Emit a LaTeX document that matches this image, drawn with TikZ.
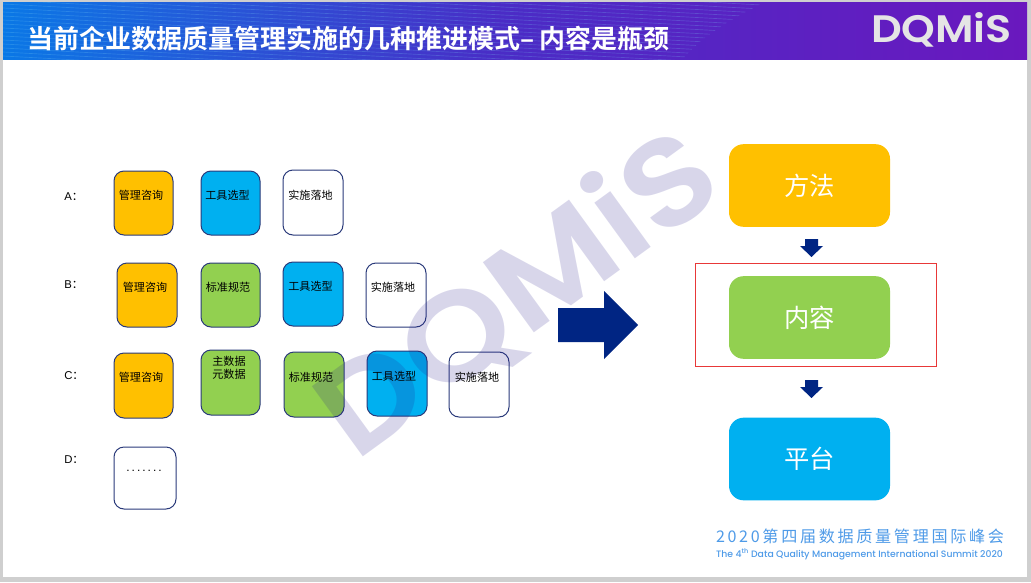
\documentclass[tikz,border=0pt]{standalone}
\usepackage{fontspec}
\setmainfont{Liberation Sans}
\newfontfamily\cjk{Noto Sans CJK SC}
\newfontfamily\cjkb{Noto Sans CJK SC Bold}
\newfontfamily\pop{Poppins Medium}
\newfontfamily\popb{Poppins SemiBold}
\usetikzlibrary{calc}
\definecolor{bandA}{HTML}{0A78E6}
\definecolor{bandB}{HTML}{4A2CC6}
\definecolor{bandC}{HTML}{6A18BE}
\definecolor{navy}{HTML}{002583}
\definecolor{edge}{HTML}{2A3A7A}
\definecolor{cOrange}{HTML}{FFC000}
\definecolor{cGreen}{HTML}{92D050}
\definecolor{cBlue}{HTML}{00B0F0}
\definecolor{wm}{HTML}{25198C}
\definecolor{foot}{HTML}{4F9BE8}
\definecolor{pageedge}{HTML}{CFCFCF}
\definecolor{frame}{HTML}{E83838}
\tikzset{
  sbox/.style={draw=edge,line width=0.75pt,rounded corners=7.5pt,inner sep=0pt},
  bbox/.style={rounded corners=11pt,inner sep=0pt,minimum width=120.75pt,minimum height=62pt,text=white,font=\cjk\fontsize{19}{21}\selectfont},
  stxt/.style={inner sep=0pt,font=\cjk\fontsize{8.3}{9.8}\selectfont,text=black,align=center},
  rowlbl/.style={inner sep=0pt,anchor=west,font=\fontsize{8.5}{10}\selectfont,text=black},
  darrow/.style={fill=navy,draw=none}
}
% name, x1, y1, x2, y2, fill
\newcommand{\bx}[6]{%
  \pgfmathsetmacro{\bw}{(#4-#2)*0.75}\pgfmathsetmacro{\bh}{(#5-#3)*0.75}%
  \node[sbox,fill=#6,minimum width=\bw pt,minimum height=\bh pt] (#1) at ({(#2+#4)/2},{(#3+#5)/2}) {};}
\begin{document}
\begin{tikzpicture}[x=0.75pt,y=-0.75pt]
\useasboundingbox (0,0) rectangle (1031,582);
\fill[pageedge] (0,0) rectangle (1031,582);
\fill[white] (3,2) rectangle (1027,577);
% banner
\begin{scope}
\clip (3,2) rectangle (1027,59.5);
\shade[left color=bandA,right color=bandB] (3,2) rectangle (500,60);
\shade[left color=bandB,right color=bandC] (500,2) rectangle (1027,60);
\begin{scope}
\clip (3,2) -- (765,2) .. controls (725,22) and (700,38) .. (682,60) -- (3,60) -- cycle;
\foreach \i in {-44,-40,...,60}{
  \draw[cyan!50!white,opacity=0.22,line width=0.5pt] (3,\i) -- (780,{\i+42});
}
\end{scope}
\end{scope}
\node[inner sep=0pt,anchor=west,text=white,font=\cjkb\fontsize{19.45}{22}\selectfont] (title) at (27,39) {当前企业数据质量管理实施的几种推进模式– 内容是瓶颈};
\node[inner sep=0pt,text=white!90!black] (logo) at (941.5,30) {\resizebox{105.75pt}{22.5pt}{\popb DQMiS}};
% small boxes
\bx{a1}{114}{171}{173}{235}{cOrange}
\bx{a2}{201}{171}{260}{235}{cBlue}
\bx{a3}{283}{170}{343}{235}{white}
\bx{b1}{117}{263}{177}{327}{cOrange}
\bx{b2}{201}{263}{260}{327}{cGreen}
\bx{b3}{283}{262}{343}{326}{cBlue}
\bx{b4}{366}{263}{426}{327}{white}
\bx{c1}{114}{353}{173}{418}{cOrange}
\bx{c2}{201}{350}{260}{415}{cGreen}
\bx{c3}{284}{352}{344}{417}{cGreen}
\bx{c4}{367}{351}{427}{416}{cBlue}
\bx{c5}{449}{352}{509}{417}{white}
\bx{d1}{114}{447}{176}{509}{white}
% watermark
\node[inner sep=0pt,rotate=36,text=wm,opacity=0.175] (mark) at (518,294) {\resizebox{345pt}{73pt}{\popb DQMiS}};
% box texts
\node[stxt] (ta1) at (141,195) {管理咨询};
\node[stxt] (ta2) at (227.5,195) {工具选型};
\node[stxt] (ta3) at (310.5,195) {实施落地};
\node[stxt] (tb1) at (145,287) {管理咨询};
\node[stxt] (tb2) at (228,287) {标准规范};
\node[stxt] (tb3) at (310.5,286) {工具选型};
\node[stxt] (tb4) at (393,287) {实施落地};
\node[stxt] (tc1) at (141,377) {管理咨询};
\node[stxt] (tc2) at (229,367.5) {主数据\\元数据};
\node[stxt] (tc3) at (311,377) {标准规范};
\node[stxt] (tc4) at (394,376) {工具选型};
\node[stxt] (tc5) at (477,377) {实施落地};
\node[stxt,font=\fontsize{9}{10}\selectfont] (td1) at (144,471) {.\,.\,.\,.\,.\,.\,.};
\node[rowlbl] (la) at (64,197) {A\cjk：};
\node[rowlbl] (lb) at (64,285) {B\cjk：};
\node[rowlbl] (lc) at (64,376) {C\cjk：};
\node[rowlbl] (ld) at (64,460) {D\cjk：};
% big arrow
\fill[darrow] (558,308) -- (604,308) -- (604,291) -- (638,325) -- (604,359) -- (604,342) -- (558,342) -- cycle;
% right column
\node[bbox,fill=cOrange] (fa) at (809.5,185.5) {方法};
\node[bbox,fill=cGreen] (nr) at (809.5,317.5) {内容};
\node[bbox,fill=cBlue] (pt) at (809.5,459) {平台};
\draw[frame,line width=0.75pt] (695.5,263.5) rectangle (936.5,366.5);
\fill[darrow] (805,239) -- (818,239) -- (818,246) -- (823,246) -- (811.5,257) -- (800,246) -- (805,246) -- cycle;
\fill[darrow] (805,380) -- (818,380) -- (818,387) -- (823,387) -- (811.5,398) -- (800,387) -- (805,387) -- cycle;
% footer
\node[inner sep=0pt,text=foot] (f1) at (860,536) {\resizebox{216pt}{!}{\cjk\fontsize{10}{12}\selectfont 2\,0\,2\,0\,第\,四\,届\,数\,据\,质\,量\,管\,理\,国\,际\,峰\,会}};
\node[inner sep=0pt,text=foot] (f2) at (859.5,554.5) {\resizebox{215pt}{!}{\pop The 4\textsuperscript{th} Data Quality Management International Summit 2020}};
\end{tikzpicture}
\end{document}
